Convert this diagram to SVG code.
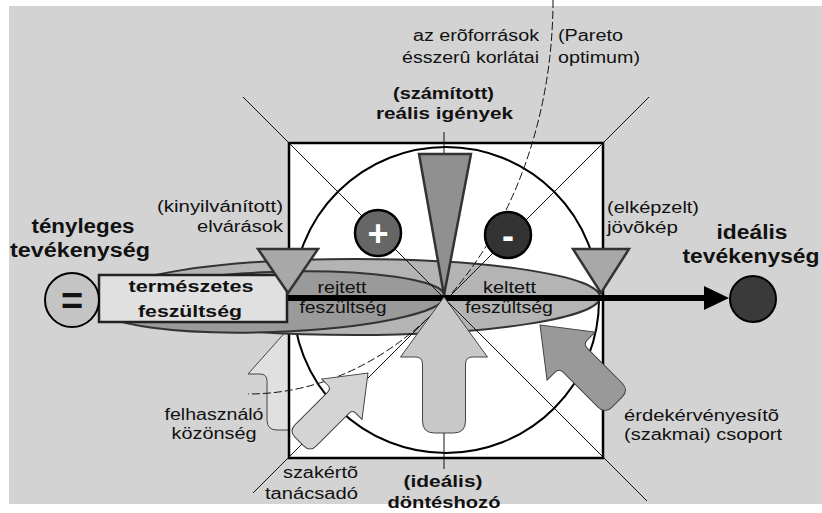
<svg xmlns="http://www.w3.org/2000/svg" width="822" height="513" viewBox="0 0 822 513">
<style>
.t{font-family:"Liberation Sans",Arial,sans-serif;font-size:16px;fill:#111}
.b{font-weight:bold}
.big{font-size:20px}
.mid{font-size:17px}
.thin{stroke:#111;stroke-width:1;fill:none}
.arr{stroke:#444;stroke-width:1}
.tri{stroke:#333;stroke-width:2.5;stroke-linejoin:miter}
.ell{stroke:#333;stroke-width:2}
</style>
<rect x="0" y="0" width="822" height="513" fill="#ffffff"/>
<rect x="9" y="6" width="813" height="498" fill="#d3d3d3"/>

<g id="felhasznalo-arrow">
<path class="arr" fill="#e0e0e0" transform="translate(289,328)" d="M0,0 L41,46 L29,46 Q22,46 22,53 L22,92 Q22,102 12,102 L-12,102 Q-22,102 -22,92 L-22,53 Q-22,46 -29,46 L-41,46 Z"/>
</g>

<g id="frame">
<rect x="289" y="143" width="314" height="315" fill="#ffffff" stroke="#000" stroke-width="2.5"/>
<circle cx="446" cy="300" r="153" fill="none" stroke="#000" stroke-width="2"/>
</g>

<g id="tension-ellipses">
<ellipse class="ell" cx="355" cy="297" rx="245" ry="38" fill="#b4b4b4"/>
<ellipse class="ell" cx="272" cy="302" rx="173" ry="30" fill="#9a9a9a" transform="rotate(-2 272 302)"/>
</g>

<g id="connectors">
<line class="thin" x1="243" y1="97" x2="647" y2="501"/>
<line class="thin" x1="649" y1="97" x2="253" y2="493"/>
<path class="thin" stroke-dasharray="8,3" d="M553,0 A305 394 0 0 1 248 394"/>
<line x1="200" y1="298" x2="707" y2="298" stroke="#000" stroke-width="6"/>
<polygon points="704,286 729,298 704,310" fill="#000"/>
<line class="thin" x1="444" y1="132" x2="444" y2="155"/>
<line class="thin" x1="444" y1="433" x2="444" y2="469"/>
</g>

<g id="termeszetes">
<rect x="99" y="275" width="188" height="47" fill="#e0e0e0" stroke="#222" stroke-width="2.5"/>
<text class="t b mid" x="191" y="292" text-anchor="middle" textLength="125" lengthAdjust="spacingAndGlyphs">természetes</text>
<text class="t b mid" x="190" y="317" text-anchor="middle" textLength="104" lengthAdjust="spacingAndGlyphs">feszültség</text>
</g>

<g id="tenyleges">
<circle cx="72" cy="300" r="27" fill="#c4c4c4" stroke="#000" stroke-width="2"/>
<text class="t b" x="72" y="314" text-anchor="middle" font-size="38" style="font-size:38px">=</text>
<text class="t b big" x="83" y="233" text-anchor="middle" textLength="103" lengthAdjust="spacingAndGlyphs">tényleges</text>
<text class="t b big" x="80" y="257" text-anchor="middle" textLength="140" lengthAdjust="spacingAndGlyphs">tevékenység</text>
</g>

<g id="idealis">
<circle cx="753" cy="299" r="23" fill="#3a3a3a" stroke="#000" stroke-width="2"/>
<text class="t b big" x="752" y="239" text-anchor="middle" textLength="71" lengthAdjust="spacingAndGlyphs">ideális</text>
<text class="t b big" x="751" y="263" text-anchor="middle" textLength="137" lengthAdjust="spacingAndGlyphs">tevékenység</text>
</g>

<g id="dontesthozo">
<path class="arr" fill="#c8c8c8" transform="translate(444,297)" d="M0,0 L43.5,60 L28.5,60 Q21.5,60 21.5,67 L21.5,124 Q21.5,136 9.5,136 L-9.5,136 Q-21.5,136 -21.5,124 L-21.5,67 Q-21.5,60 -28.5,60 L-43.5,60 Z"/>
<text class="t b mid" x="443" y="487" text-anchor="middle" textLength="79" lengthAdjust="spacingAndGlyphs">(ideális)</text>
<text class="t b mid" x="444" y="508" text-anchor="middle" textLength="113" lengthAdjust="spacingAndGlyphs">döntéshozó</text>
</g>

<g id="szakerto">
<path class="arr" fill="#d4d4d4" transform="translate(368,373) rotate(45)" d="M0,0 L28.5,37 L20,37 Q15,37 15,42 L15,88 Q15,97 6,97 L-6,97 Q-15,97 -15,88 L-15,42 Q-15,37 -20,37 L-28.5,37 Z"/>
<text class="t" x="358" y="478" text-anchor="end" textLength="75" lengthAdjust="spacingAndGlyphs">szakértõ</text>
<text class="t" x="358" y="499" text-anchor="end" textLength="93" lengthAdjust="spacingAndGlyphs">tanácsadó</text>
</g>

<g id="erdekervenyesito">
<path class="arr" fill="#999999" transform="translate(540,325) rotate(-45)" d="M0,0 L34,44 L23,44 Q17,44 17,50 L17,99 Q17,109 7,109 L-7,109 Q-17,109 -17,99 L-17,50 Q-17,44 -23,44 L-34,44 Z"/>
<text class="t" x="624" y="421" textLength="155" lengthAdjust="spacingAndGlyphs">érdekérvényesítõ</text>
<text class="t" x="624" y="440" textLength="158" lengthAdjust="spacingAndGlyphs">(szakmai) csoport</text>
</g>

<g id="felhasznalo-label">
<text class="t" x="214" y="420" text-anchor="middle" textLength="99" lengthAdjust="spacingAndGlyphs">felhasználó</text>
<text class="t" x="214" y="439" text-anchor="middle" textLength="85" lengthAdjust="spacingAndGlyphs">közönség</text>
</g>

<g id="realis-igenyek">
<polygon class="tri" points="419,154 471,154 444,295" fill="#909090"/>
<text class="t b mid" x="443.5" y="99" text-anchor="middle" textLength="101" lengthAdjust="spacingAndGlyphs">(számított)</text>
<text class="t b mid" x="444.5" y="119" text-anchor="middle" textLength="137" lengthAdjust="spacingAndGlyphs">reális igények</text>
</g>

<g id="elvarasok">
<polygon class="tri" points="258,249 318,249 288,293" fill="#a8a8a8"/>
<text class="t" x="283" y="212" text-anchor="end" textLength="126" lengthAdjust="spacingAndGlyphs">(kinyilvánított)</text>
<text class="t" x="283" y="232" text-anchor="end" textLength="86" lengthAdjust="spacingAndGlyphs">elvárások</text>
</g>

<g id="jovokep">
<polygon class="tri" points="573,249 629,249 601,293" fill="#a8a8a8"/>
<text class="t" x="607" y="213" textLength="92" lengthAdjust="spacingAndGlyphs">(elképzelt)</text>
<text class="t" x="607" y="233" textLength="71" lengthAdjust="spacingAndGlyphs">jövõkép</text>
</g>

<g id="plus">
<circle cx="378" cy="233" r="23" fill="#666666" stroke="#000" stroke-width="2.5"/>
<text class="t b" x="378" y="246" text-anchor="middle" style="font-size:36px;fill:#fff">+</text>
</g>

<g id="minus">
<circle cx="508" cy="235" r="23" fill="#333333" stroke="#000" stroke-width="2.5"/>
<text class="t b" x="508" y="248" text-anchor="middle" style="font-size:36px;fill:#fff">-</text>
</g>

<g id="tension-labels">
<text class="t" x="342" y="293" text-anchor="middle" textLength="49" lengthAdjust="spacingAndGlyphs">rejtett</text>
<text class="t" x="343" y="313" text-anchor="middle" textLength="87" lengthAdjust="spacingAndGlyphs">feszültség</text>
<text class="t" x="509.5" y="293" text-anchor="middle" textLength="53" lengthAdjust="spacingAndGlyphs">keltett</text>
<text class="t" x="509" y="313" text-anchor="middle" textLength="88" lengthAdjust="spacingAndGlyphs">feszültség</text>
</g>

<g id="pareto">
<text class="t" x="539" y="41" text-anchor="end" textLength="126" lengthAdjust="spacingAndGlyphs">az erõforrások</text>
<text class="t" x="539" y="63" text-anchor="end" textLength="137" lengthAdjust="spacingAndGlyphs">ésszerû korlátai</text>
<text class="t" x="558" y="41" textLength="65" lengthAdjust="spacingAndGlyphs">(Pareto</text>
<text class="t" x="558" y="63" textLength="82" lengthAdjust="spacingAndGlyphs">optimum)</text>
</g>
</svg>
